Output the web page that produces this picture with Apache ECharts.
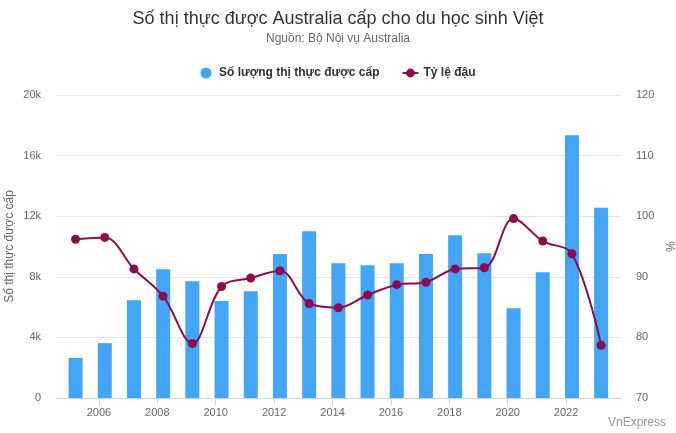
<!DOCTYPE html>
<html lang="vi">
<head>
    <meta charset="utf-8">
    <title>Số thị thực được Australia cấp cho du học sinh Việt</title>
    <script src="https://cdn.jsdelivr.net/npm/echarts@6/dist/echarts.min.js"></script>
    <style>
        html, body { margin: 0; padding: 0; background: #fff; }
        #main { width: 676px; height: 433px; }
    </style>
</head>
<body>
<div id="main"></div>
<script type="text/javascript">
    // du lieu doc tu bieu do goc
    var years = [2005, 2006, 2007, 2008, 2009, 2010, 2011, 2012, 2013, 2014,
        2015, 2016, 2017, 2018, 2019, 2020, 2021, 2022, 2023];
    var visas = [2650, 3620, 6450, 8500, 7700, 6400, 7050, 9500, 11000, 8900,
        8770, 8900, 9500, 10750, 9550, 5920, 8300, 17350, 12550];
    var passRate = [96.2, 96.5, 91.3, 86.8, 79.0, 88.4, 89.8, 91.0, 85.6, 84.9,
        87.0, 88.7, 89.1, 91.3, 91.5, 99.6, 95.9, 93.8, 78.7];
    var yearTicks = [2006, 2008, 2010, 2012, 2014, 2016, 2018, 2020, 2022];

    // moi diem nam o khoang thang 3 cua nam (truc thoi gian)
    var inYear = 0.2;

    var visaData = years.map(function (y, i) { return [y + inYear, visas[i]]; });
    var rateData = years.map(function (y, i) { return [y + inYear, passRate[i]]; });

    var font = 'Liberation Sans, Arial, sans-serif';
    var myChart = echarts.init(document.getElementById('main'));
    var option = {
        textStyle: { fontFamily: font },
        title: {
            text: 'Số thị thực được Australia cấp cho du học sinh Việt',
            subtext: 'Nguồn: Bộ Nội vụ Australia',
            left: 'center',
            top: 5,
            itemGap: 5,
            textStyle: { fontSize: 18, fontWeight: 'normal', color: '#333', fontFamily: font },
            subtextStyle: { fontSize: 12, color: '#666', fontFamily: font }
        },
        legend: {
            top: 62,
            left: 'center',
            itemGap: 22,
            itemWidth: 16,
            itemHeight: 11,
            textStyle: { fontSize: 12, fontWeight: 'bold', color: '#333', fontFamily: font },
            data: [
                { name: 'Số lượng thị thực được cấp', icon: 'circle' },
                { name: 'Tỷ lệ đậu' }
            ]
        },
        grid: { left: 56, right: 55, top: 95, bottom: 35, outerBoundsMode: 'none' },
        xAxis: {
            type: 'value',
            min: 2004.53,
            max: 2023.88,
            splitLine: { show: false },
            axisLine: { show: true, lineStyle: { color: '#ccd6eb' } },
            axisTick: { show: true, length: 7, customValues: yearTicks, lineStyle: { color: '#ccd6eb' } },
            axisLabel: {
                customValues: yearTicks,
                color: '#666',
                fontSize: 11,
                margin: 9,
                formatter: function (v) { return String(v); }
            }
        },
        yAxis: [
            {
                type: 'value',
                min: 0,
                max: 20000,
                interval: 4000,
                name: 'Số thị thực được cấp',
                nameLocation: 'middle',
                nameRotate: 90,
                nameGap: 40,
                nameMoveOverlap: false,
                nameTextStyle: { color: '#666', fontSize: 12 },
                axisLine: { show: false },
                axisTick: { show: false },
                axisLabel: {
                    color: '#666',
                    fontSize: 11,
                    margin: 15,
                    formatter: function (v) { return v === 0 ? '0' : (v / 1000) + 'k'; }
                },
                splitLine: { lineStyle: { color: '#e6e6e6' } }
            },
            {
                type: 'value',
                min: 70,
                max: 120,
                interval: 10,
                name: '%',
                nameLocation: 'middle',
                nameRotate: -90,
                nameGap: 42,
                nameMoveOverlap: false,
                nameTextStyle: { color: '#666', fontSize: 12 },
                axisLine: { show: false },
                axisTick: { show: false },
                axisLabel: { color: '#666', fontSize: 11, margin: 15 },
                splitLine: { show: false }
            }
        ],
        series: [
            {
                name: 'Số lượng thị thực được cấp',
                type: 'bar',
                yAxisIndex: 0,
                barWidth: 14,
                itemStyle: { color: '#42a5f5' },
                data: visaData
            },
            {
                name: 'Tỷ lệ đậu',
                type: 'line',
                yAxisIndex: 1,
                smooth: 0.35,
                symbol: 'circle',
                symbolSize: 9,
                itemStyle: { color: '#8b0c4f' },
                lineStyle: { color: '#8b0c4f', width: 2 },
                data: rateData
            }
        ],
        graphic: [
            {
                type: 'text',
                right: 10,
                bottom: 4,
                style: { text: 'VnExpress', fontSize: 12, fill: '#999', fontFamily: font }
            }
        ]
    };

    myChart.setOption(option);
</script>
</body>
</html>
